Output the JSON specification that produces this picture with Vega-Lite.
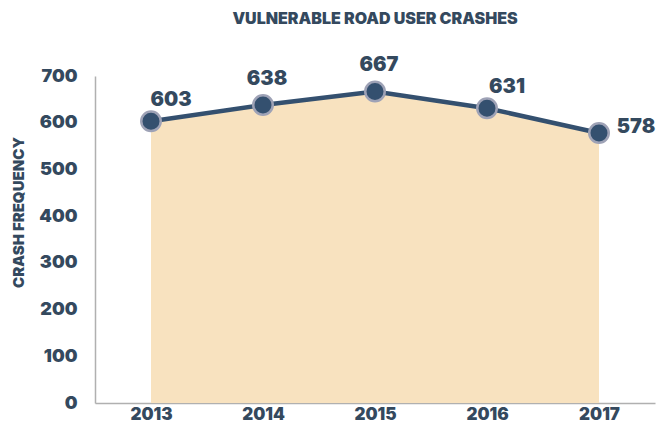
{
  "$schema": "https://vega.github.io/schema/vega-lite/v6.json",
  "width": 560,
  "height": 327,
  "autosize": "none",
  "padding": {"left": 95, "top": 76, "right": 7, "bottom": 23},
  "background": "white",
  "config": {"view": {"stroke": null}, "font": "Inter"},
  "title": {
    "text": "VULNERABLE ROAD USER CRASHES",
    "anchor": "middle",
    "fontSize": 16,
    "fontWeight": 900,
    "color": "#34495e",
    "font": "Inter",
    "offset": 28
  },
  "data": {
    "values": [
      {"year": "2013", "crashes": 603},
      {"year": "2014", "crashes": 638},
      {"year": "2015", "crashes": 667},
      {"year": "2016", "crashes": 631},
      {"year": "2017", "crashes": 578}
    ]
  },
  "encoding": {
    "x": {
      "field": "year",
      "type": "ordinal",
      "scale": {"type": "point", "padding": 0.5},
      "axis": {
        "title": null,
        "labelAngle": 0,
        "ticks": false,
        "labelPadding": 3,
        "labelFontSize": 17,
        "labelFontWeight": 900,
        "labelColor": "#34495e",
        "domainColor": "#b0b0b0",
        "domainWidth": 1.5,
        "grid": false
      }
    },
    "y": {
      "field": "crashes",
      "type": "quantitative",
      "scale": {"domain": [0, 700], "nice": false},
      "axis": {
        "title": "CRASH FREQUENCY",
        "titleFontSize": 15,
        "titleFontWeight": 900,
        "titleColor": "#34495e",
        "titlePadding": 12,
        "titleY": 136,
        "values": [0, 100, 200, 300, 400, 500, 600, 700],
        "ticks": false,
        "grid": false,
        "labelPadding": 18,
        "labelFontSize": 18,
        "labelFontWeight": 900,
        "labelColor": "#34495e",
        "domainColor": "#b0b0b0",
        "domainWidth": 1.5
      }
    }
  },
  "layer": [
    {"mark": {"type": "area", "color": "#f8e2bf", "opacity": 1}},
    {"mark": {"type": "line", "color": "#34506f", "strokeWidth": 4.5}},
    {
      "mark": {
        "type": "point",
        "filled": true,
        "size": 380,
        "fill": "#34506f",
        "stroke": "#9ea2b6",
        "strokeWidth": 2.5,
        "opacity": 1
      }
    },
    {
      "transform": [{"filter": "datum.year == '2013' || datum.year == '2016'"}],
      "mark": {"type": "text", "dx": 20, "dy": -21, "fontSize": 20, "fontWeight": 900, "color": "#34495e", "baseline": "middle"},
      "encoding": {"text": {"field": "crashes"}}
    },
    {
      "transform": [{"filter": "datum.year == '2014' || datum.year == '2015'"}],
      "mark": {"type": "text", "dx": 4, "dy": -26, "fontSize": 20, "fontWeight": 900, "color": "#34495e", "baseline": "middle"},
      "encoding": {"text": {"field": "crashes"}}
    },
    {
      "transform": [{"filter": "datum.year == '2017'"}],
      "mark": {"type": "text", "dx": 37, "dy": -6, "fontSize": 20, "fontWeight": 900, "color": "#34495e", "baseline": "middle"},
      "encoding": {"text": {"field": "crashes"}}
    }
  ]
}
